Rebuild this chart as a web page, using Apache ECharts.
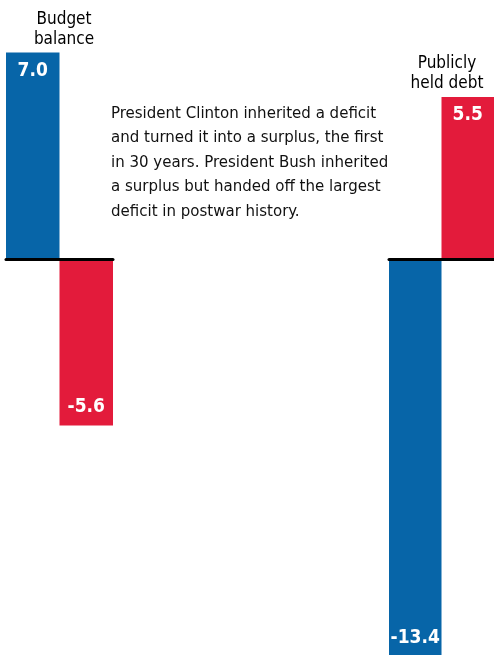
<!DOCTYPE html>
<html>
<head>
<meta charset="utf-8">
<script src="https://cdn.jsdelivr.net/npm/echarts@6/dist/echarts.min.js"></script>
<style>
  html, body { margin: 0; padding: 0; background: #fff; }
  #chart { width: 494px; height: 655px; }
</style>
</head>
<body>
<div id="chart"></div>
<script>
// change in share of GDP, Clinton (blue) vs Bush (red)
const groups = ['Budget\nbalance', 'Publicly\nheld debt'];
const clintonValues = [7.0, -13.4];
const bushValues = [-5.6, 5.5];
const note = 'President Clinton inherited a deficit\nand turned it into a surplus, the first\nin 30 years. President Bush inherited\na surplus but handed off the largest\ndeficit in postwar history.';

const FONT = '"Liberation Sans Narrow", "DejaVu Sans Condensed", sans-serif';
const BLUE = '#0765a8';
const RED = '#e31b3b';

let chart = echarts.init(document.getElementById('chart'));

// same scale in both grids so the zero line sits on one level
const yMin = -14, yMax = 8;
const gridTop = 23, gridHeight = 651;
const gridBoxes = [{ left: 6, width: 107 }, { left: 389, width: 105 }];

let makeData = vals => vals.map(v => ({
  value: v,
  label: { position: v >= 0 ? 'insideTop' : 'insideBottom' }
}));

let grids = [], xAxes = [], yAxes = [], series = [], titles = [];

gridBoxes.forEach((box, i) => {
  grids.push({
    left: box.left, width: box.width, top: gridTop, height: gridHeight,
    outerBoundsMode: 'none', containLabel: false
  });
  xAxes.push({
    type: 'category',
    gridIndex: i,
    data: [groups[i]],
    axisLine: { onZero: true, lineStyle: { color: '#000', width: 3 } },
    axisTick: { show: false },
    axisLabel: { show: false },
    z: 10
  });
  yAxes.push({
    type: 'value',
    gridIndex: i,
    min: yMin,
    max: yMax,
    show: false,
    splitLine: { show: false }
  });
  let labelStyle = {
    show: true,
    color: '#fff',
    fontFamily: FONT,
    fontWeight: 'bold',
    fontSize: 19,
    distance: 9,
    formatter: p => p.value.toFixed(1)
  };
  series.push({
    name: 'Clinton',
    type: 'bar',
    xAxisIndex: i,
    yAxisIndex: i,
    data: makeData([clintonValues[i]]),
    itemStyle: { color: BLUE },
    barGap: '0%',
    barCategoryGap: '0%',
    label: labelStyle
  });
  series.push({
    name: 'Bush',
    type: 'bar',
    xAxisIndex: i,
    yAxisIndex: i,
    data: makeData([bushValues[i]]),
    itemStyle: { color: RED },
    barGap: '0%',
    barCategoryGap: '0%',
    label: labelStyle
  });
});

titles.push({
  text: groups[0],
  left: 59,
  top: 5,
  textAlign: 'center',
  textStyle: { fontFamily: FONT, fontSize: 17, fontWeight: 'normal', color: '#000', lineHeight: 20 }
});
titles.push({
  text: groups[1],
  left: 442,
  top: 49,
  textAlign: 'center',
  textStyle: { fontFamily: FONT, fontSize: 17, fontWeight: 'normal', color: '#000', lineHeight: 20 }
});

chart.setOption({
  animation: false,
  backgroundColor: '#fff',
  title: titles,
  grid: grids,
  xAxis: xAxes,
  yAxis: yAxes,
  series: series,
  graphic: [{
    type: 'text',
    left: 111,
    top: 101,
    style: {
      text: note,
      fontFamily: FONT,
      fontSize: 16.7,
      lineHeight: 24.5,
      fill: '#111'
    }
  }]
});
</script>
</body>
</html>
